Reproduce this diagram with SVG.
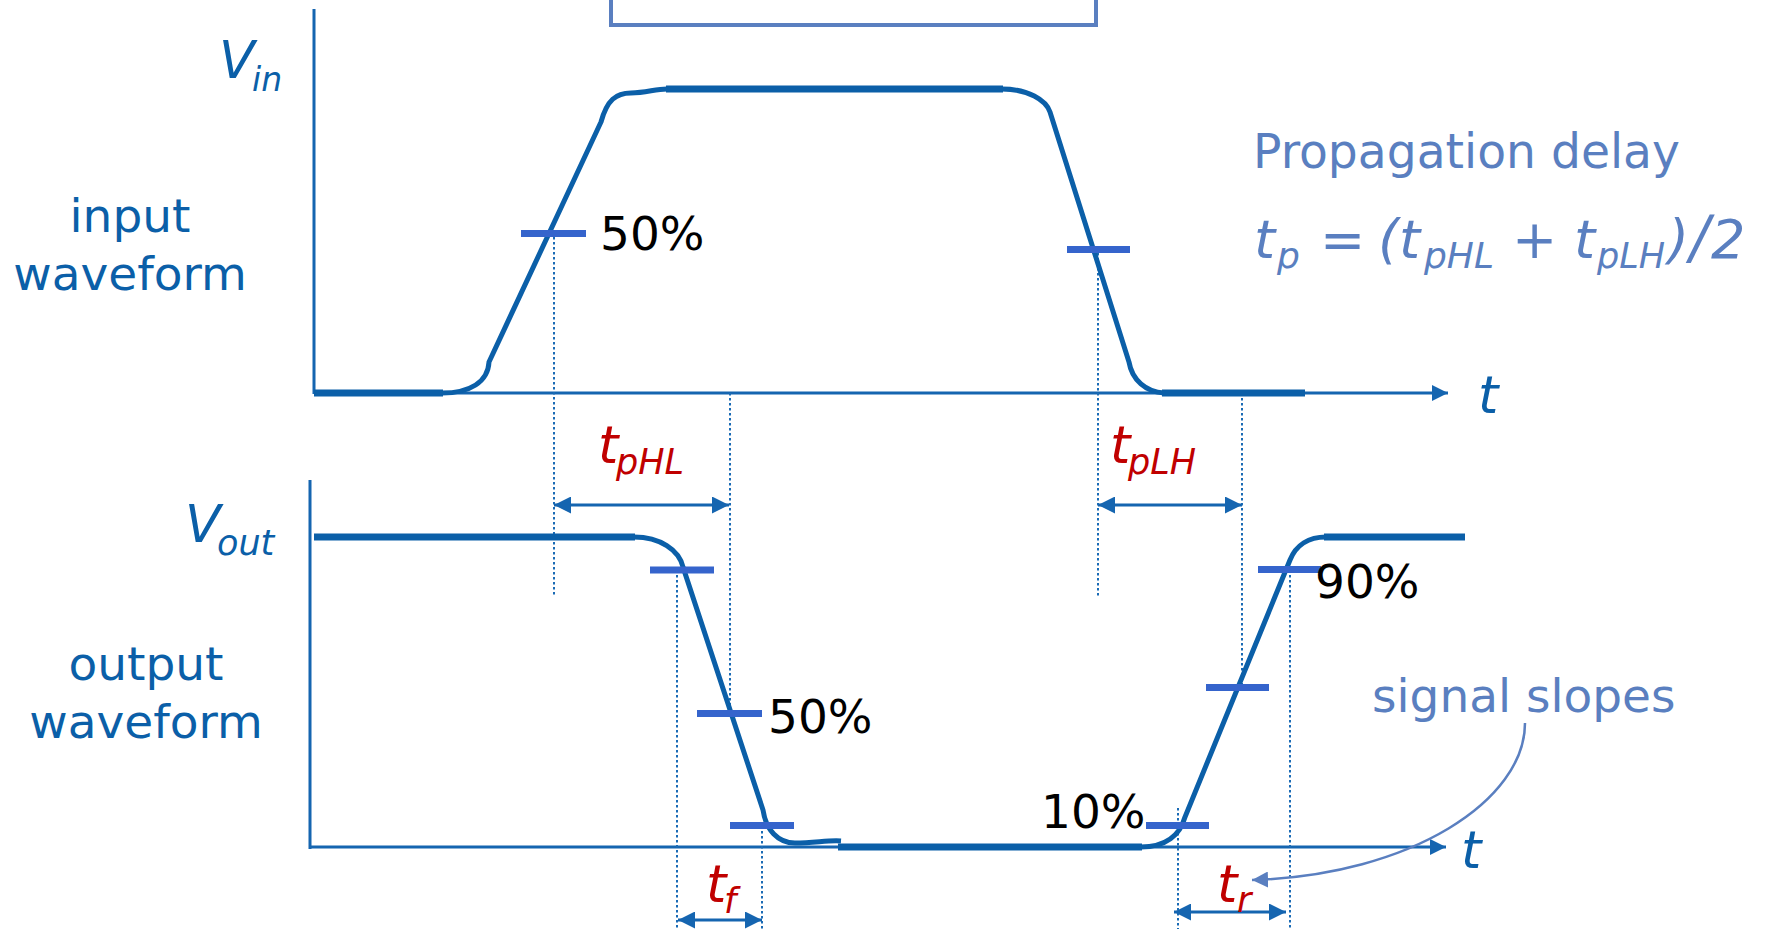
<svg xmlns="http://www.w3.org/2000/svg" width="1767" height="929" viewBox="0 0 1767 929">
<style>
.ax{stroke:#1565b0;stroke-width:3;fill:none}
.wf{stroke:#0b5fa8;stroke-width:5;fill:none;stroke-linecap:butt}
.flat{stroke:#0b5fa8;stroke-width:7;fill:none}
.bar{stroke:#3564cc;stroke-width:7}
.dot{stroke:#1a6bb5;stroke-width:2;stroke-dasharray:2.5 2.5;fill:none}
.dim{stroke:#1565b0;stroke-width:3;fill:none;marker-start:url(#ah);marker-end:url(#ah)}
.lbl{font-family:"DejaVu Sans",Verdana,sans-serif;fill:#0b5fa8}
.pct{font-family:"DejaVu Sans",Verdana,sans-serif;fill:#000;font-size:47px}
.red{font-family:"DejaVu Sans",Verdana,sans-serif;fill:#c00000;font-style:italic}
.lt{font-family:"DejaVu Sans",Verdana,sans-serif;fill:#5a7fc0}
</style>
<defs>
<marker id="ah" viewBox="0 0 17 17" refX="17" refY="8.5" markerWidth="17" markerHeight="17" markerUnits="userSpaceOnUse" orient="auto-start-reverse"><path d="M0,0 L17,8.5 L0,17 z" fill="#1565b0"/></marker>
<marker id="axh" viewBox="0 0 16 16" refX="16" refY="8" markerWidth="16" markerHeight="16" markerUnits="userSpaceOnUse" orient="auto"><path d="M0,0 L16,8 L0,16 z" fill="#1565b0"/></marker>
<marker id="sh" viewBox="0 0 16 16" refX="16" refY="8" markerWidth="16" markerHeight="16" markerUnits="userSpaceOnUse" orient="auto"><path d="M0,0 L16,8 L0,16 z" fill="#5a7fc0"/></marker>
</defs>
<rect width="1767" height="929" fill="#fff"/>

<g id="topbox"><rect x="611" y="-10" width="485" height="35" fill="none" stroke="#5a7fc0" stroke-width="4"/></g>

<g id="axes">
<line class="ax" x1="314" y1="9" x2="314" y2="394"/>
<line class="ax" x1="314" y1="393" x2="1448" y2="393" marker-end="url(#axh)"/>
<line class="ax" x1="310" y1="480" x2="310" y2="849"/>
<line class="ax" x1="310" y1="847" x2="1446" y2="847" marker-end="url(#axh)"/>
</g>

<g id="dotted">
<line class="dot" x1="554" y1="237" x2="554" y2="597"/>
<line class="dot" x1="730" y1="393" x2="730" y2="712"/>
<line class="dot" x1="1098" y1="253" x2="1098" y2="597"/>
<line class="dot" x1="1242" y1="393" x2="1242" y2="687"/>
<line class="dot" x1="677" y1="570" x2="677" y2="929"/>
<line class="dot" x1="762" y1="826" x2="762" y2="929"/>
<line class="dot" x1="1178" y1="808" x2="1178" y2="929"/>
<line class="dot" x1="1290" y1="570" x2="1290" y2="929"/>
</g>

<g id="input-waveform">
<line class="flat" x1="314" y1="393" x2="443" y2="393"/>
<path class="wf" d="M442,393 C470,393 488,382 489,362 L601,122 C607,100 616,93 631,93 C646,93 655,89 667,89"/>
<line class="flat" x1="666" y1="89" x2="1003" y2="89"/>
<path class="wf" d="M1002,89 C1028,89 1046,100 1050,112 L1129,362 C1132,380 1146,392 1164,393"/>
<line class="flat" x1="1162" y1="393" x2="1305" y2="393"/>
<line class="bar" x1="521" y1="233.5" x2="586" y2="233.5"/>
<line class="bar" x1="1067" y1="249.5" x2="1130" y2="249.5"/>
</g>

<g id="output-waveform">
<line class="flat" x1="314" y1="537" x2="635" y2="537"/>
<path class="wf" d="M634,537 C660,537 679,550 683,567 L763,810 C766,830 778,843 795,843 C815,843 828,840 841,841"/>
<line class="flat" x1="838" y1="847" x2="1142" y2="847"/>
<path class="wf" d="M1141,847 C1166,847 1180,835 1185,817 L1290,560 C1296,545 1309,537 1326,537"/>
<line class="flat" x1="1324" y1="537" x2="1465" y2="537"/>
<line class="bar" x1="650" y1="570" x2="714" y2="570"/>
<line class="bar" x1="697" y1="713.5" x2="762" y2="713.5"/>
<line class="bar" x1="730" y1="825.5" x2="794" y2="825.5"/>
<line class="bar" x1="1258" y1="569.5" x2="1321" y2="569.5"/>
<line class="bar" x1="1206" y1="687.5" x2="1269" y2="687.5"/>
<line class="bar" x1="1146" y1="825.5" x2="1209" y2="825.5"/>
</g>

<g id="connectors">
<line class="dim" x1="554" y1="505" x2="729" y2="505"/>
<line class="dim" x1="1098" y1="505" x2="1242" y2="505"/>
<line class="dim" x1="678" y1="920" x2="762" y2="920"/>
<line class="dim" x1="1174" y1="912" x2="1286" y2="912"/>
<path d="M1525,723 C1525,800 1412,875 1252,880" fill="none" stroke="#5a7fc0" stroke-width="2.5" marker-end="url(#sh)"/>
</g>

<g id="labels">
<text class="lbl" x="219" y="78" font-size="52" font-style="italic">V</text>
<text class="lbl" x="252" y="91" font-size="33" font-style="italic">in</text>
<text class="lbl" x="185" y="542" font-size="52" font-style="italic">V</text>
<text class="lbl" x="217" y="555" font-size="35" font-style="italic">out</text>
<text class="lbl" x="130" y="232" font-size="47" text-anchor="middle">input</text>
<text class="lbl" x="130" y="290" font-size="47" text-anchor="middle">waveform</text>
<text class="lbl" x="146" y="680" font-size="47" text-anchor="middle">output</text>
<text class="lbl" x="146" y="738" font-size="47" text-anchor="middle">waveform</text>
<text class="lbl" x="1478" y="413" font-size="52" font-style="italic">t</text>
<text class="lbl" x="1461" y="868" font-size="52" font-style="italic">t</text>
</g>

<g id="percent-labels">
<text class="pct" x="600" y="250">50%</text>
<text class="pct" x="768" y="733">50%</text>
<text class="pct" x="1315" y="598">90%</text>
<text class="pct" x="1041" y="828">10%</text>
</g>

<g id="delay-labels">
<text class="red" x="598" y="463" font-size="52">t</text>
<text class="red" x="616" y="474" font-size="35">pHL</text>
<text class="red" x="1110" y="463" font-size="52">t</text>
<text class="red" x="1128" y="474" font-size="35">pLH</text>
<text class="red" x="706" y="902" font-size="52">t</text>
<text class="red" x="724" y="913" font-size="35">f</text>
<text class="red" x="1217" y="902" font-size="52">t</text>
<text class="red" x="1237" y="912" font-size="35">r</text>
</g>

<g id="propagation">
<text class="lt" x="1253" y="168" font-size="47.2">Propagation delay</text>
<text class="lt" font-style="italic" font-size="54"><tspan x="1254" y="258">t</tspan><tspan x="1277" y="268" font-size="36">p</tspan><tspan x="1320" y="258">=</tspan><tspan x="1378" y="258">(t</tspan><tspan x="1424" y="268" font-size="36">pHL</tspan><tspan x="1512" y="258">+</tspan><tspan x="1574" y="258">t</tspan><tspan x="1597" y="268" font-size="35">pLH</tspan><tspan x="1668" y="258">)</tspan><tspan x="1690" y="258" font-size="58">/</tspan><tspan x="1711" y="258">2</tspan></text>
</g>

<g id="slopes">
<text class="lt" x="1372" y="712" font-size="47">signal slopes</text>
</g>
</svg>
